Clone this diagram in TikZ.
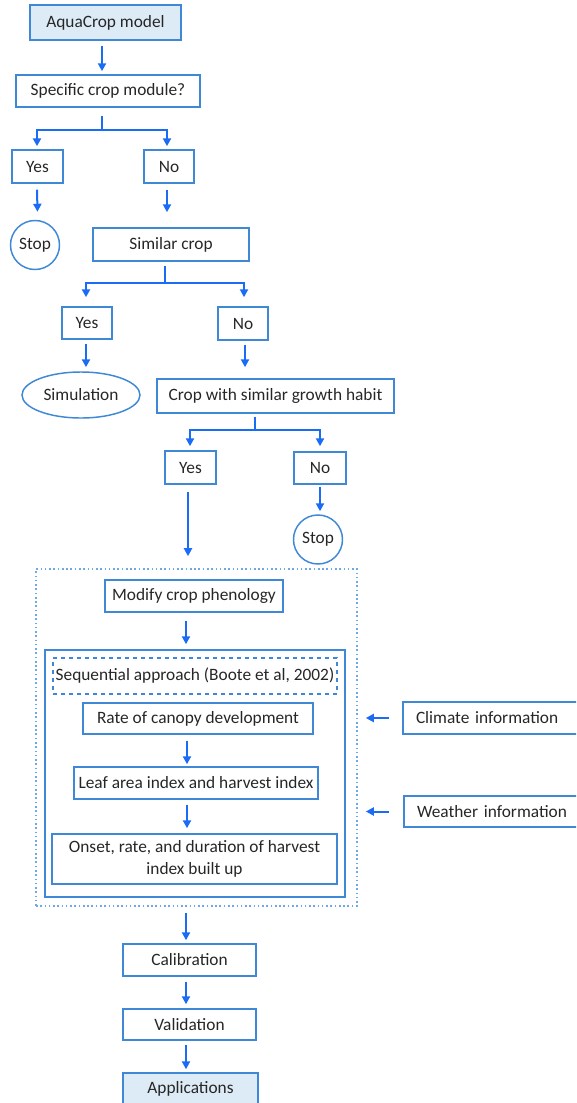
\documentclass[tikz,border=0pt]{standalone}
\usepackage{fontspec}
\setmainfont{Carlito}
\usetikzlibrary{arrows.meta,shapes.geometric}
\definecolor{bord}{HTML}{3F88D6}
\definecolor{arrc}{HTML}{1A6CF5}
\definecolor{fillb}{HTML}{DDEBF7}
\definecolor{dotc}{HTML}{6FA8E6}
\definecolor{txt}{HTML}{262626}
\tikzset{
  bx/.style n args={2}{draw=bord, line width=1.1pt, rectangle, inner sep=0pt,
    minimum width=#1*0.75pt, minimum height=#2*0.75pt, text=txt,
    font=\fontsize{13}{15.6}\selectfont},
  circ/.style={draw=bord, line width=1.1pt, circle, inner sep=0pt,
    minimum size=#1*0.75pt, text=txt, font=\fontsize{13}{15.6}\selectfont},
  ell/.style n args={2}{draw=bord, line width=1.1pt, ellipse, inner sep=0pt,
    minimum width=#1*0.75pt, minimum height=#2*0.75pt, text=txt,
    font=\fontsize{13}{15.6}\selectfont},
  filled/.style={fill=fillb},
  conn/.style={draw=arrc, line width=1.5pt},
  arr/.style={conn, -{Triangle[width=6pt,length=6pt]}},
}
\begin{document}
\begin{tikzpicture}[x=0.75pt,y=-0.75pt]
\useasboundingbox (0,0) rectangle (576,1103);
\clip (0,0) rectangle (576,1103);

\node[bx={151}{35}, filled] (aqua) at (105.5,22.5) {AquaCrop model};
\node[bx={184}{32}] (spec) at (108,91) {Specific crop module?};
\node[bx={51}{33}] (yes1) at (37.5,166.5) {Yes};
\node[bx={50}{33}] (no1) at (169,166.5) {No};
\node[circ=49] (stop1) at (35,245) {Stop};
\node[bx={156}{33}] (sim) at (171,244.5) {Similar crop};
\node[bx={50}{32}] (yes2) at (87,323) {Yes};
\node[bx={50}{33}] (no2) at (243,323.5) {No};
\node[ell={118}{46}] (simu) at (81,395) {Simulation};
\node[bx={237}{34}] (habit) at (275.5,396) {Crop with similar growth habit};
\node[bx={51}{33}] (yes3) at (190.5,467.5) {Yes};
\node[bx={52}{32}] (no3) at (320,468) {No};
\node[circ=49] (stop2) at (318,539.5) {Stop};

\node[draw=dotc, line width=1.2pt, dotted, rectangle, inner sep=0pt,
  minimum width=321*0.75pt, minimum height=337*0.75pt] (grp) at (196.5,737.5) {};
\node[bx={178}{32}] (pheno) at (194,596) {Modify crop phenology};
\node[bx={300}{247}] (inner) at (195,773.5) {};
\node[bx={284}{36}, dashed, line width=0.9pt] (seq) at (195,676) {Sequential approach (Boote et al, 2002)};
\node[bx={230}{31}] (rate) at (198,718.5) {Rate of canopy development};
\node[bx={244}{32}] (leaf) at (196,783) {Leaf area index and harvest index};
\node[bx={285}{50}, align=center, font=\fontsize{13}{16.5}\selectfont] (onset) at (194.5,859)
  {Onset, rate, and duration of harvest\\index built up};

\node[bx={200}{32}, text width=174*0.75pt, align=left, inner xsep=13*0.75pt] (climate) at (503,718) {Climate information};
\node[bx={200}{31}, text width=174*0.75pt, align=left, inner xsep=13*0.75pt] (weather) at (504,811.5) {Weather information};

\node[bx={133}{32}] (calib) at (189.5,960) {Calibration};
\node[bx={133}{31}] (valid) at (189.5,1024.5) {Validation};
\node[bx={135}{32}, filled] (appl) at (190.5,1089) {Applications};

% connectors
\draw[arr] ([xshift=-3.5*0.75pt,yshift=-5*0.75pt]aqua.south) -- ([xshift=-6*0.75pt,yshift=3*0.75pt]spec.north);
\coordinate (b1) at (102,130);
\draw[conn] ([xshift=-6*0.75pt,yshift=-8*0.75pt]spec.south) -- (b1);
\draw[arr, shorten >=3*0.75pt] (b1) -| ([xshift=-0.5*0.75pt]yes1.north);
\draw[arr, shorten >=3*0.75pt] (b1) -| ([xshift=-2*0.75pt]no1.north);
\draw[arr] ([xshift=-0.5*0.75pt,yshift=-6*0.75pt]yes1.south) -- ([yshift=8*0.75pt]yes1.south |- stop1.north);
\draw[arr] ([xshift=-2*0.75pt,yshift=-6*0.75pt]no1.south) -- ([xshift=-4*0.75pt,yshift=15*0.75pt]sim.north);

\coordinate (b2) at (165,283);
\draw[conn] ([xshift=-6*0.75pt,yshift=-4*0.75pt]sim.south) -- (b2);
\draw[arr, shorten >=9*0.75pt] (b2) -| ([xshift=-1*0.75pt]yes2.north);
\draw[arr, shorten >=9*0.75pt] (b2) -| ([xshift=1*0.75pt]no2.north);
\draw[arr] ([xshift=-1*0.75pt,yshift=-4*0.75pt]yes2.south) -- ([xshift=5*0.75pt,yshift=4*0.75pt]simu.north);
\draw[arr] ([xshift=2*0.75pt,yshift=-4*0.75pt]no2.south) -- ([xshift=2*0.75pt,yshift=11*0.75pt]no2.south |- habit.north);

\coordinate (b3) at (255,430);
\draw[conn] ([xshift=-20.5*0.75pt,yshift=-3*0.75pt]habit.south) -- (b3);
\draw[arr, shorten >=4*0.75pt] (b3) -| ([xshift=-0.5*0.75pt]yes3.north);
\draw[arr, shorten >=5*0.75pt] (b3) -| (no3.north);
\draw[arr] ([xshift=-2.5*0.75pt,yshift=-7*0.75pt]yes3.south) -- ([xshift=-2.5*0.75pt,yshift=12*0.75pt]yes3.south |- grp.north);
\draw[arr] ([yshift=-2*0.75pt]no3.south) -- ([yshift=3*0.75pt]no3.south |- stop2.north);

\draw[arr] ([xshift=-8*0.75pt,yshift=-8*0.75pt]pheno.south) -- ([xshift=-9*0.75pt,yshift=5*0.75pt]inner.north);
\draw[arr] ([xshift=-11*0.75pt,yshift=-6*0.75pt]rate.south) -- ([xshift=-9*0.75pt,yshift=2*0.75pt]leaf.north);
\draw[arr] ([xshift=-9*0.75pt,yshift=-5*0.75pt]leaf.south) -- ([xshift=-7.5*0.75pt,yshift=5*0.75pt]onset.north);

\draw[arr] ([xshift=-13*0.75pt]climate.west) -- ([xshift=8*0.75pt]climate.west -| grp.east);
\draw[arr] ([xshift=-14*0.75pt]weather.west) -- ([xshift=8*0.75pt]weather.west -| grp.east);

\draw[arr] ([xshift=-10.5*0.75pt,yshift=-6*0.75pt]grp.south) -- ([xshift=-3.5*0.75pt,yshift=3*0.75pt]calib.north);
\draw[arr] ([xshift=-3.5*0.75pt,yshift=-5*0.75pt]calib.south) -- ([xshift=-3.5*0.75pt,yshift=4*0.75pt]valid.north);
\draw[arr] ([xshift=-3.5*0.75pt,yshift=-4*0.75pt]valid.south) -- ([xshift=-4.5*0.75pt,yshift=3*0.75pt]appl.north);
\end{tikzpicture}
\end{document}
